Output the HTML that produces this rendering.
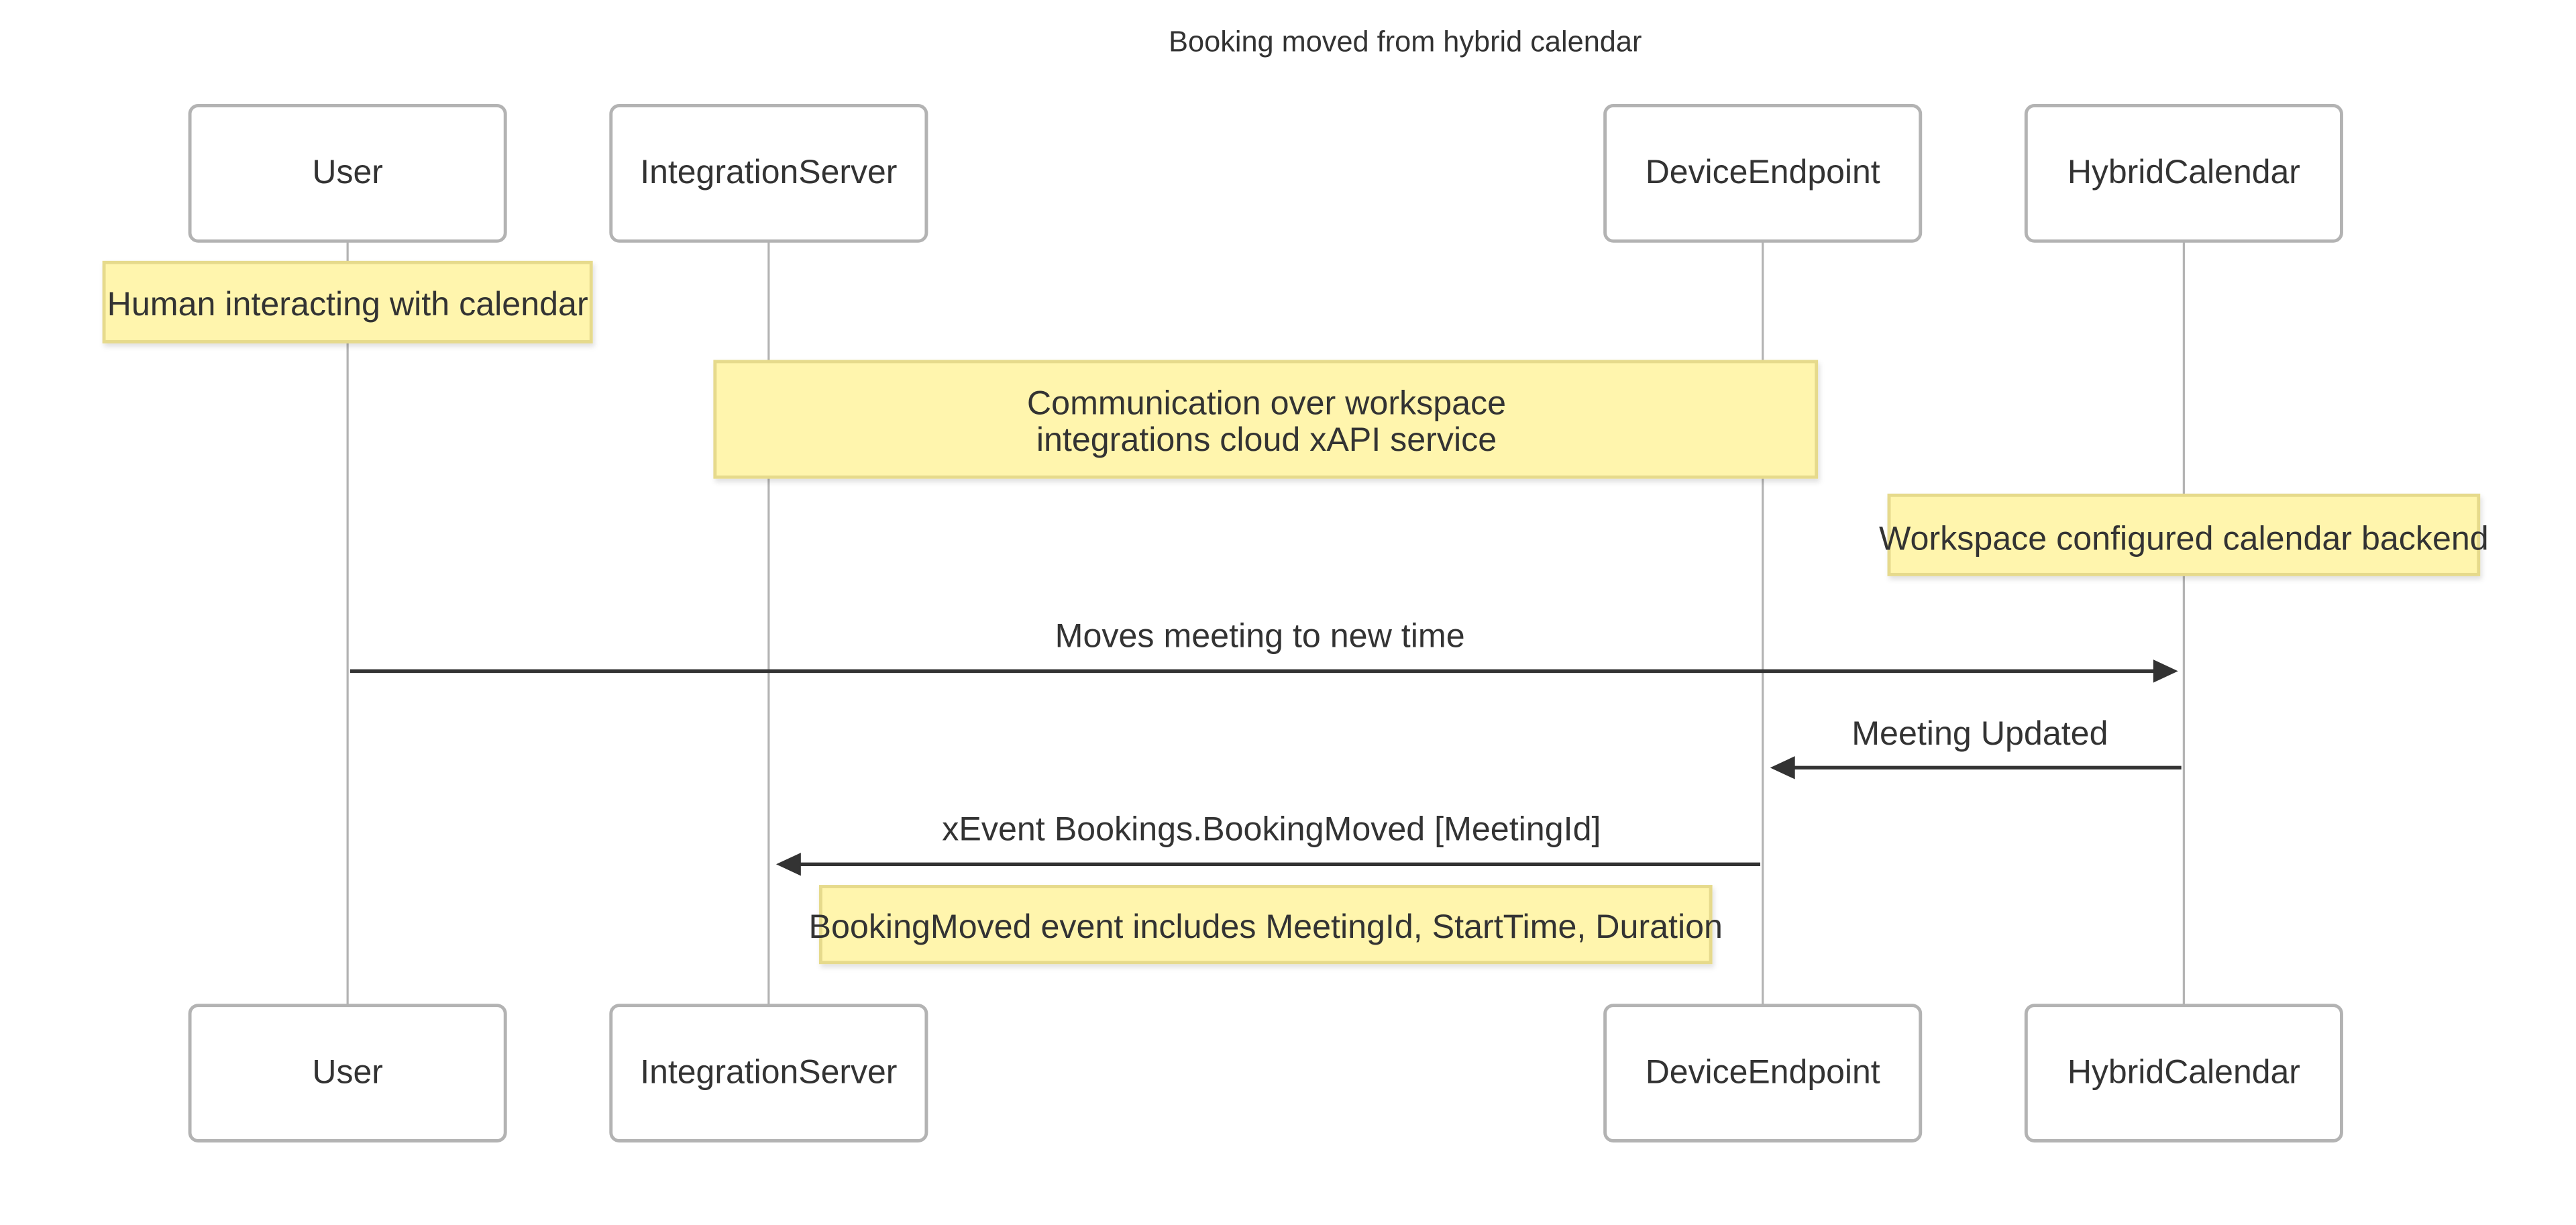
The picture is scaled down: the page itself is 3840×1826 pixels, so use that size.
<!DOCTYPE html>
<html><head><meta charset="utf-8"><style>
html,body{margin:0;padding:0;background:#fff;width:3840px;height:1826px;overflow:hidden}
svg{display:block}
text{font-family:"Liberation Sans",Arial,sans-serif;fill:#333}
</style></head><body>
<svg width="3840" height="1826" viewBox="0 0 1560 742" preserveAspectRatio="none">
<defs>
<filter id="sh" x="-5%" y="-20%" width="110%" height="150%"><feDropShadow dx="1" dy="2" stdDeviation="1.5" flood-color="#000" flood-opacity="0.12"/></filter>
</defs>
<text x="851" y="31" font-size="17.6" text-anchor="middle">Booking moved from hybrid calendar</text>
<g stroke="#b3b3b3" stroke-width="1.3">
<line x1="210.5" y1="146" x2="210.5" y2="609"/>
<line x1="465.5" y1="146" x2="465.5" y2="609"/>
<line x1="1067.5" y1="146" x2="1067.5" y2="609"/>
<line x1="1322.5" y1="146" x2="1322.5" y2="609"/>
</g>
<g fill="#fff" stroke="#b3b3b3" stroke-width="2">
<rect x="115" y="64" width="191" height="82" rx="5"/>
<rect x="370" y="64" width="191" height="82" rx="5"/>
<rect x="972" y="64" width="191" height="82" rx="5"/>
<rect x="1227" y="64" width="191" height="82" rx="5"/>
<rect x="115" y="609" width="191" height="82" rx="5"/>
<rect x="370" y="609" width="191" height="82" rx="5"/>
<rect x="972" y="609" width="191" height="82" rx="5"/>
<rect x="1227" y="609" width="191" height="82" rx="5"/>
</g>
<g font-size="20.3" text-anchor="middle">
<text x="210.5" y="111">User</text>
<text x="465.5" y="111">IntegrationServer</text>
<text x="1067.5" y="111">DeviceEndpoint</text>
<text x="1322.5" y="111">HybridCalendar</text>
<text x="210.5" y="656">User</text>
<text x="465.5" y="656">IntegrationServer</text>
<text x="1067.5" y="656">DeviceEndpoint</text>
<text x="1322.5" y="656">HybridCalendar</text>
</g>
<g fill="#fff5ad" stroke="#e6da8c" stroke-width="2" filter="url(#sh)">
<rect x="63" y="159" width="295" height="48"/>
<rect x="433" y="219" width="667" height="70"/>
<rect x="1144" y="300" width="357" height="48"/>
<rect x="497" y="537" width="539" height="46"/>
</g>
<g font-size="20.4" text-anchor="middle">
<text x="210.5" y="191">Human interacting with calendar</text>
<text x="767" y="251">Communication over workspace</text>
<text x="767" y="273">integrations cloud xAPI service</text>
<text x="1322.5" y="333">Workspace configured calendar backend</text>
<text x="766.5" y="568">BookingMoved event includes MeetingId, StartTime, Duration</text>
<text x="763" y="392">Moves meeting to new time</text>
<text x="1199" y="451">Meeting Updated</text>
<text x="770" y="509">xEvent Bookings.BookingMoved [MeetingId]</text>
</g>
<g stroke="#333" stroke-width="2.2">
<line x1="212" y1="406.5" x2="1306" y2="406.5"/>
<line x1="1321" y1="465" x2="1085" y2="465"/>
<line x1="1066" y1="523.5" x2="483" y2="523.5"/>
</g>
<g fill="#333">
<polygon points="1319,406.5 1304,399.5 1304,413.5"/>
<polygon points="1072,465 1087,458 1087,472"/>
<polygon points="470,523.5 485,516.5 485,530.5"/>
</g>
</svg>
</body></html>
